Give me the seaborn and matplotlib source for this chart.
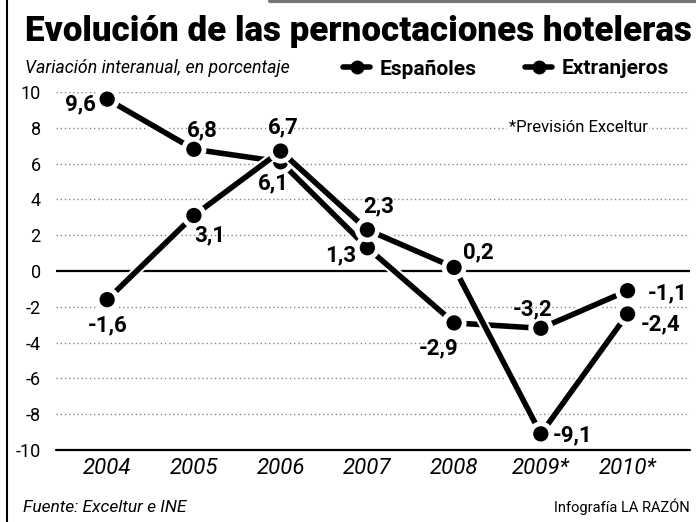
import matplotlib
matplotlib.use('Agg')
import matplotlib.pyplot as plt
import matplotlib.patheffects as pe
from matplotlib.lines import Line2D
import pandas as pd
import seaborn as sns

# ── Datos ────────────────────────────────────────────────────────────────────
anios = ['2004', '2005', '2006', '2007', '2008', '2009*', '2010*']
espanoles = [9.6, 6.8, 6.1, 1.3, -2.9, -3.2, -1.1]
extranjeros = [-1.6, 3.1, 6.7, 2.3, 0.2, -9.1, -2.4]
series = ['Españoles', 'Extranjeros']

# desplazamiento de las etiquetas (px)
off_esp = [(-27, -5), (8, 19), (-7, -22), (-27, -8), (-16, -25), (-8, 19), (40, -3)]
off_ext = [(0, -26), (16, -20), (3, 24), (11, 23), (24, 15), (32, -1), (33, -10)]

sns.set_theme(style='white')
plt.rcParams['font.family'] = ['Roboto', 'DejaVu Sans']
plt.rcParams.update({'text.color': 'black', 'xtick.color': 'black',
                     'ytick.color': 'black'})

df = pd.DataFrame({
    'x': list(range(len(anios))) * 2,
    'valor': espanoles + extranjeros,
    'serie': [series[0]] * len(anios) + [series[1]] * len(anios),
})

fig = plt.figure(figsize=(6.96, 5.22), dpi=100)
ax = fig.add_axes([56 / 696, 1 - 450 / 522, 634 / 696, 358 / 522])

sns.lineplot(data=df, x='x', y='valor', hue='serie', palette=['black', 'black'],
             marker='o', markersize=11, markeredgewidth=0, linewidth=4,
             legend=False, ax=ax, zorder=5, clip_on=False)
for ln in ax.lines:
    ln.set_path_effects([pe.Stroke(linewidth=7, foreground='white'), pe.Normal()])

ax.set_xlim(-0.59, 6.72)
ax.set_ylim(-10, 10)
ax.set_yticks(range(-10, 11, 2))
ax.set_yticklabels([str(v) for v in range(-10, 11, 2)], fontsize=13)
ax.set_xticks(range(len(anios)))
ax.set_xticklabels(anios, fontsize=16, style='italic')
ax.tick_params(axis='x', length=0, pad=6)
ax.tick_params(axis='y', length=0, pad=11)
ax.set_xlabel(''); ax.set_ylabel('')
for s in ax.spines.values():
    s.set_visible(False)

for v in range(-8, 11, 2):
    if v != 0:
        ax.axhline(v, color='#888888', lw=1, ls=(0, (1, 2)), zorder=1)
ax.axhline(0, color='black', lw=1.6, zorder=2)
ax.axhline(-10, color='black', lw=1.6, zorder=2, clip_on=False)

def fmt(v):
    return f'{v:.1f}'.replace('.', ',')

for vals, offs in [(espanoles, off_esp), (extranjeros, off_ext)]:
    for i, (v, o) in enumerate(zip(vals, offs)):
        ax.annotate(fmt(v), (i, v), xytext=o, textcoords='offset pixels',
                    ha='center', va='center', fontsize=16, fontweight='bold',
                    zorder=6)

ax.text(5.43, 8, '*Previsión Exceltur', ha='center', va='center', fontsize=12,
        bbox=dict(facecolor='white', edgecolor='none', pad=1), zorder=3)

# ── Textos ───────────────────────────────────────────────────────────────────
title = fig.text(25 / 696, 1 - 32 / 522, 'Evolución de las pernoctaciones hoteleras',
                 fontsize=30, fontweight='black', va='center', ha='left')
r = fig.canvas.get_renderer()
w = title.get_window_extent(r).width
title.set_fontsize(30 * 666 / w)

fig.text(25 / 696, 1 - 68 / 522, 'Variación interanual, en porcentaje',
         fontsize=12.8, style='italic', va='center', ha='left')
for name, x0 in zip(series, [343, 525]):
    h = Line2D([0], [0], color='black', lw=4, marker='o', markersize=9)
    fig.legend([h], [name], loc='center left', bbox_to_anchor=(x0 / 696, 1 - 69 / 522),
               frameon=False, handlelength=1.3, borderpad=0, borderaxespad=0,
               handletextpad=0.45, prop={'size': 15, 'weight': 'bold'})
fig.text(23 / 696, 1 - 508 / 522, 'Fuente: Exceltur e INE',
         fontsize=12.5, style='italic', va='center', ha='left')
fig.text(690 / 696, 1 - 507 / 522, 'Infografía LA RAZÓN',
         fontsize=10.5, va='center', ha='right')

fig.add_artist(Line2D([7 / 696, 7 / 696], [0, 1], color='black', lw=1.5))
fig.add_artist(Line2D([270 / 696, 1], [1 - 1 / 522, 1 - 1 / 522], color='#777777', lw=3))

fig.savefig('out.png', dpi=100)
